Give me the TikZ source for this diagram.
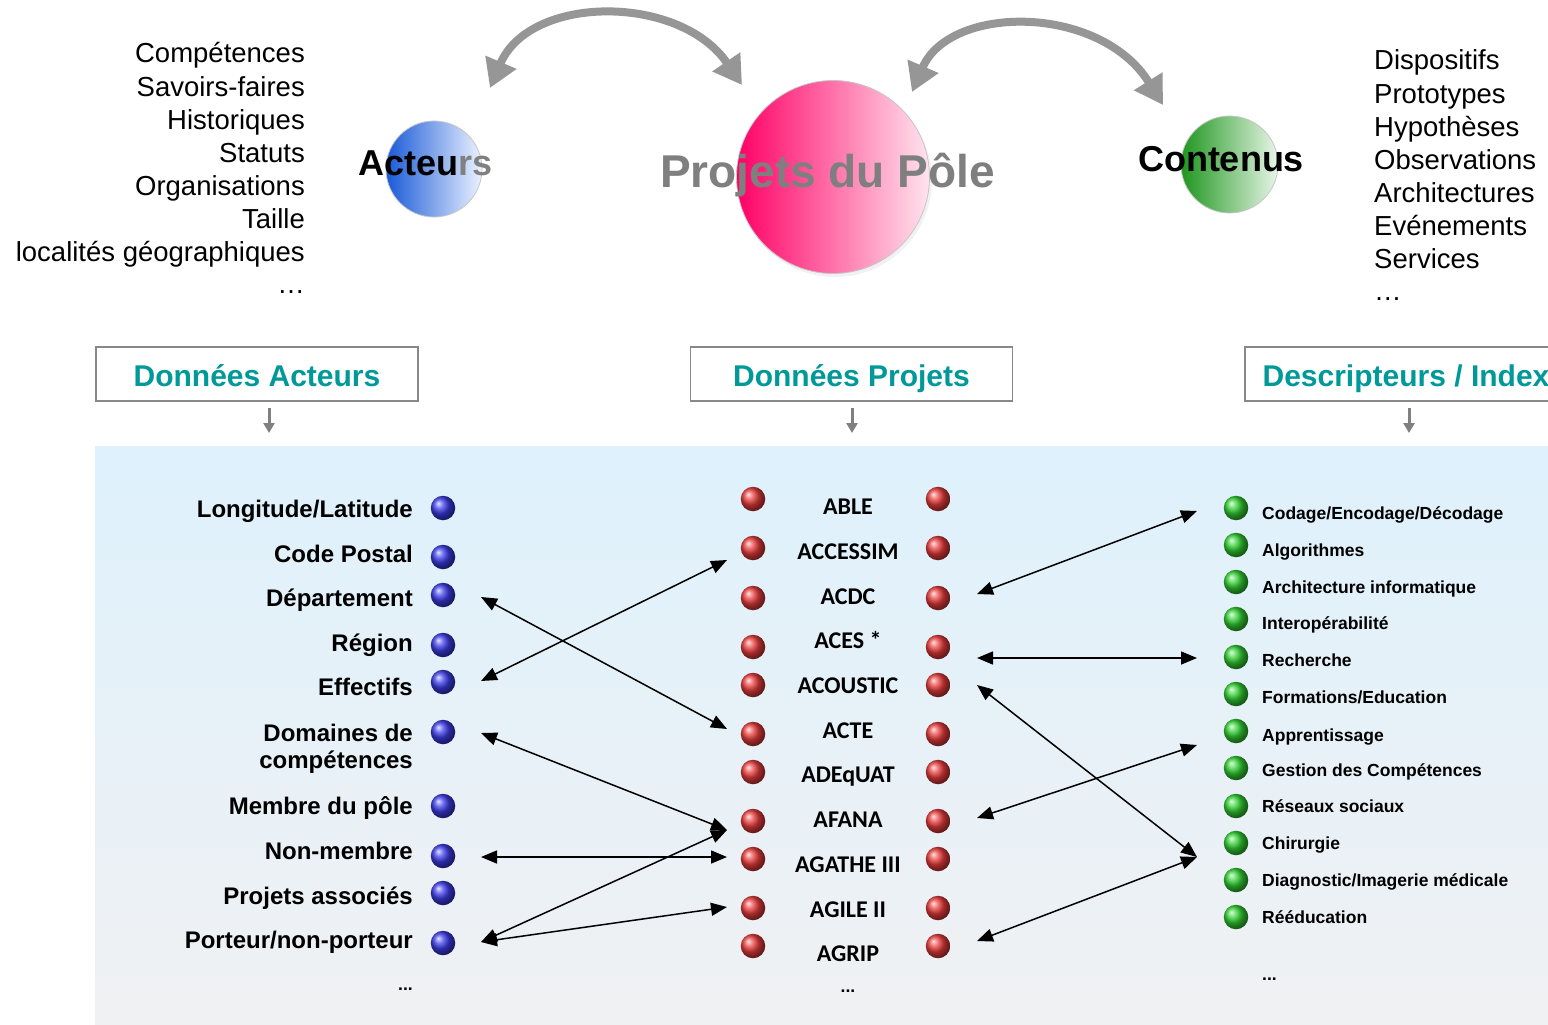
\documentclass[tikz,border=0pt]{standalone}
\usepackage{fontspec}
\setmainfont{Liberation Sans}
\newfontfamily\calibfont{Carlito}
\usetikzlibrary{arrows.meta,calc}
\definecolor{tealtxt}{RGB}{0,153,153}
\definecolor{arrgray}{RGB}{150,150,150}
\definecolor{bgtop}{RGB}{222,241,252}
\definecolor{bgbot}{RGB}{240,241,243}
\definecolor{boxgray}{RGB}{136,136,136}
\definecolor{acblue}{RGB}{25,90,215}
\definecolor{acbluel}{RGB}{236,242,255}
\definecolor{pjpink}{RGB}{255,0,102}
\definecolor{pjpinkl}{RGB}{255,228,238}
\definecolor{cngreen}{RGB}{30,150,30}
\definecolor{cngreenl}{RGB}{232,246,232}
\definecolor{dotblue}{RGB}{60,60,235}
\definecolor{dotred}{RGB}{235,60,60}
\definecolor{dotgreen}{RGB}{50,210,50}
\tikzset{
  toplist/.style={font=\fontsize{27.5}{33}\selectfont, inner sep=0pt},
  bigtitle/.style={font=\fontsize{36}{40}\selectfont\bfseries, inner sep=0pt, anchor=base},
  bigcircle/.style={circle, inner sep=0pt, draw=gray!45, line width=0.8pt},
  hdrbox/.style={draw=boxgray, line width=1.5pt, fill=white, minimum width=322pt, minimum height=54pt,
     font=\fontsize{30}{34}\selectfont\bfseries, text=tealtxt, inner sep=0pt, text height=24pt, text depth=0pt},
  leftlbl/.style={font=\fontsize{24}{27}\selectfont\bfseries, anchor=base east, inner sep=0pt},
  projlbl/.style={font=\calibfont\fontsize{24}{27}\selectfont\bfseries, anchor=base, inner sep=0pt},
  desclbl/.style={font=\fontsize{17.5}{20}\selectfont\bfseries, anchor=base west, inner sep=0pt},
  dotbase/.style={circle, minimum size=24.5pt, inner sep=0pt},
  bluedot/.style={dotbase, ball color=dotblue},
  reddot/.style={dotbase, ball color=dotred},
  greendot/.style={dotbase, ball color=dotgreen},
  link/.style={draw=black, line width=1.5pt, {Triangle[length=16pt,width=13pt]}-{Triangle[length=16pt,width=13pt]}},
  bigarrow/.style={draw=arrgray, line width=8pt, {Triangle[length=28pt,width=32pt]}-{Triangle[length=28pt,width=32pt]}},
  downarrow/.style={draw=gray, line width=3pt, -{Triangle[length=10pt,width=11pt]}},
}
\begin{document}
\begin{tikzpicture}[x=1pt,y=-1pt]
\clip (0,0) rectangle (1548,1025);
\useasboundingbox (0,0) rectangle (1548,1025);
\fill[white] (0,0) rectangle (1548,1025);

% ---------- top lists ----------
\foreach \t [count=\i] in {Compétences,Savoirs-faires,Historiques,Statuts,Organisations,Taille,localités géographiques}
  \node[toplist, anchor=base east] (tl\i) at (305,{63+33.1*(\i-1)}) {\t};
\node[toplist, anchor=base east] (tl8) at (305,293) {…};
\foreach \t [count=\i] in {Dispositifs,Prototypes,Hypothèses,Observations,Architectures,Evénements,Services}
  \node[toplist, anchor=base west] (tr\i) at (1374,{70+33.1*(\i-1)}) {\t};
\node[toplist, anchor=base west] (tr8) at (1374,300) {…};

% ---------- big circles ----------
\node[bigcircle, minimum size=96pt, left color=acblue, right color=acbluel] (acteursC) at (434,169) {};
\fill[gray!30, opacity=0.35] (835,180) circle (97pt);
\node[bigcircle, minimum size=193pt, left color=pjpink, right color=pjpinkl] (projetsC) at (833,177) {};
\node[bigcircle, minimum size=97pt, left color=cngreen, right color=cngreenl] (contenusC) at (1229.5,164.5) {};

\node[bigtitle] (acteursT) at (425.5,175) {Acteu\textcolor{gray}{rs}};
\node[bigtitle, font=\fontsize{46}{50}\selectfont\bfseries, text={rgb,255:red,127;green,127;blue,127}] (projetsT) at (827.5,187) {Projets du Pôle};
\node[bigtitle] (contenusT) at (1221,171) {Contenus};

% ---------- curved gray arrows ----------
\coordinate (ca1) at (490,88);
\coordinate (ca2) at (742,85);
\coordinate (cb1) at (912,92);
\coordinate (cb2) at (1163,105);
\draw[bigarrow] (ca1) .. controls (530,-6) and (680,-6) .. (ca2);
\draw[bigarrow] (cb1) .. controls (950,4) and (1100,4) .. (cb2);

% ---------- header boxes ----------
\node[hdrbox] (hA) at (257,374) {Données Acteurs};
\node[hdrbox] (hP) at (851.5,374) {Données Projets};
\node[hdrbox] (hD) at (1406,374) {Descripteurs / Index};
\coordinate (dA) at (269,433);
\coordinate (dP) at (852,433);
\coordinate (dD) at (1409,433);
\draw[downarrow] (269,408) -- (dA);
\draw[downarrow] (852,408) -- (dP);
\draw[downarrow] (1409,408) -- (dD);

% ---------- background panel ----------
\shade[top color=bgtop, bottom color=bgbot] (95,446) rectangle (1548,1025);

% ---------- left list ----------
\node[leftlbl] (la1) at (413,517) {Longitude/Latitude};
\node[leftlbl] (la2) at (413,562) {Code Postal};
\node[leftlbl] (la3) at (413,606) {Département};
\node[leftlbl] (la4) at (413,651) {Région};
\node[leftlbl] (la5) at (413,695) {Effectifs};
\node[leftlbl] (la6) at (413,741) {Domaines de};
\node[leftlbl] (la6b) at (413,768) {compétences};
\node[leftlbl] (la7) at (413,814) {Membre du pôle};
\node[leftlbl] (la8) at (413,859) {Non-membre};
\node[leftlbl] (la9) at (413,904) {Projets associés};
\node[leftlbl] (la10) at (413,948) {Porteur/non-porteur};
\node[leftlbl, font=\fontsize{17.5}{20}\selectfont\bfseries] (la11) at (413,990) {...};

\foreach \y [count=\i] in {508,557,595,645,682,732,806,856,893,943}
  \node[bluedot] (bd\i) at (443,\y) {};

% ---------- middle list ----------
\foreach \y/\t [count=\i] in {507/{ABLE},552/{ACCESSIM},597/{ACDC},641/{ACES *},686/{ACOUSTIC},731/{ACTE},775/{ADEqUAT},820/{AFANA},865/{AGATHE III},910/{AGILE II},954/{AGRIP}}
  \node[projlbl] (pj\i) at (848,{\y+7.5}) {\t};
\node[projlbl, font=\fontsize{17.5}{20}\selectfont\bfseries] (pj12) at (848,992) {...};

\foreach \y [count=\i] in {499,548,598,647,685,734,772,821,859,908,946} {
  \node[reddot] (rl\i) at (753,\y) {};
  \node[reddot] (rr\i) at (938,\y) {};
}

% ---------- right list ----------
\foreach \y/\t [count=\i] in {513/{Codage/Encodage/Décodage},550/{Algorithmes},587/{Architecture informatique},623/{Interopérabilité},660/{Recherche},697/{Formations/Education},735/{Apprentissage},770/{Gestion des Compétences},806/{Réseaux sociaux},843/{Chirurgie},880/{Diagnostic/Imagerie médicale},917/{Rééducation}}
  \node[desclbl] (ds\i) at (1262,{\y+6.3}) {\t};
\node[desclbl] (ds13) at (1262,980) {...};

\foreach \y [count=\i] in {508,545,582,619,657,694,731,768,806,843,880,917}
  \node[greendot] (gd\i) at (1236,\y) {};

% ---------- connector end points ----------
\coordinate (L3) at (481,597);
\coordinate (L5) at (481,681);
\coordinate (L6) at (481,733);
\coordinate (L8) at (481,857);
\coordinate (L10) at (481,942);
\coordinate (M2) at (727,560);
\coordinate (M6) at (727,729);
\coordinate (M8) at (727,830);
\coordinate (M9) at (727,857);
\coordinate (M10) at (727,907);
\coordinate (R3) at (977,594);
\coordinate (R4) at (977,658);
\coordinate (R5) at (977,685);
\coordinate (R8) at (977,818);
\coordinate (R11) at (977,941);
\coordinate (G1) at (1197,511);
\coordinate (G5) at (1197,658);
\coordinate (G7) at (1197,745);
\coordinate (G10) at (1197,857);

\draw[link] (L3) -- (M6);
\draw[link] (L5) -- (M2);
\draw[link] (L6) -- (M8);
\draw[link] (L8) -- (M9);
\draw[link] (L10) -- (M8);
\draw[link] (L10) -- (M10);
\draw[link] (R3) -- (G1);
\draw[link] (R4) -- (G5);
\draw[link] (R5) -- (G10);
\draw[link] (R8) -- (G7);
\draw[link] (R11) -- (G10);
\end{tikzpicture}
\end{document}
